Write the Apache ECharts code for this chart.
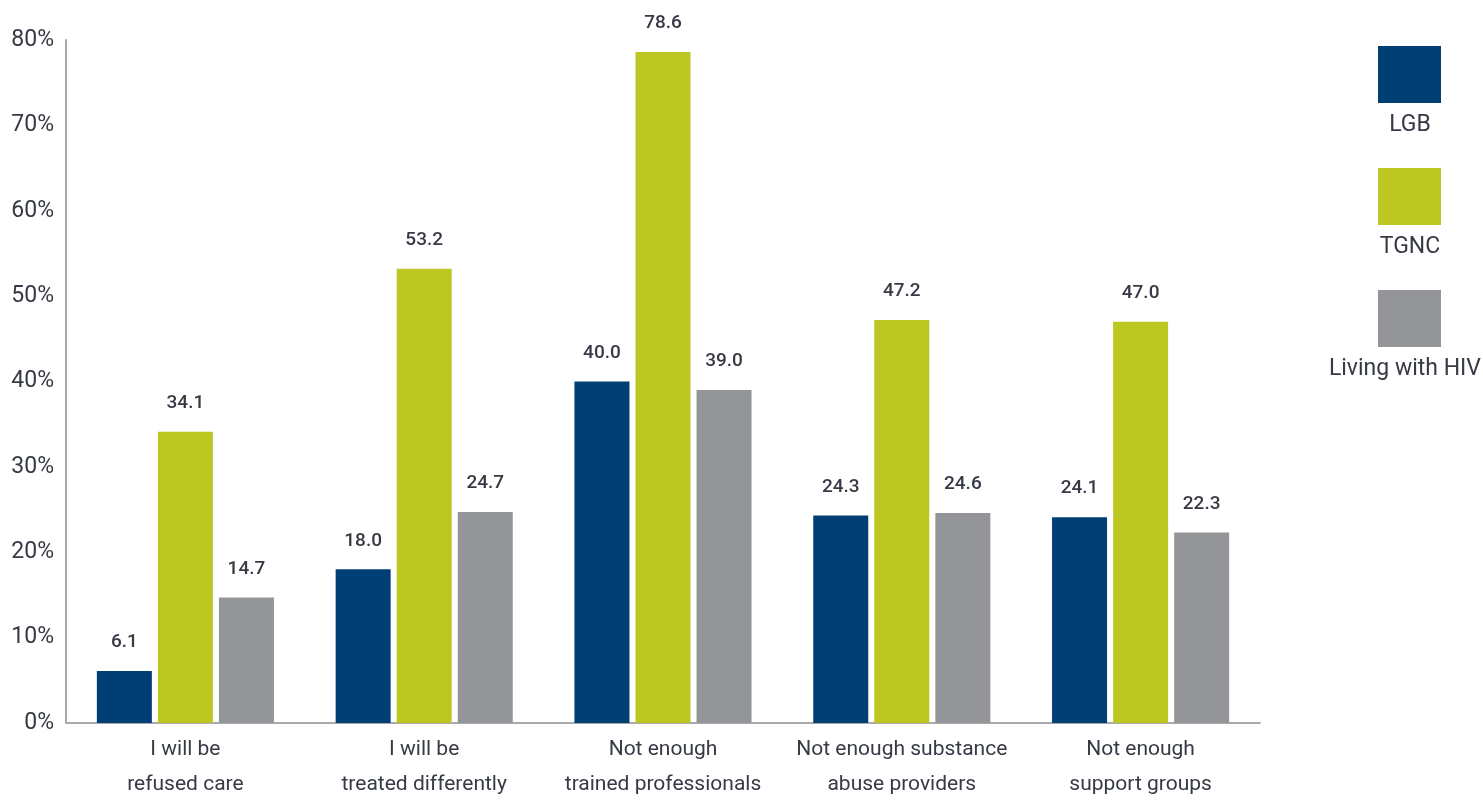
<!DOCTYPE html>
<html>
<head>
<meta charset="utf-8">
<script src="https://cdn.jsdelivr.net/npm/echarts@6/dist/echarts.min.js"></script>
<style>
  html, body { margin: 0; padding: 0; background: #ffffff; }
  #chart { width: 1483px; height: 802px; }
</style>
</head>
<body>
<div id="chart"></div>
<script>
// Barriers to care, share of respondents (%) by group
const categories = [
  'I will be\nrefused care',
  'I will be\ntreated differently',
  'Not enough\ntrained professionals',
  'Not enough substance\nabuse providers',
  'Not enough\nsupport groups'
];
const seriesNames = ['LGB', 'TGNC', 'Living with HIV'];
const lgb  = [6.1, 18.0, 40.0, 24.3, 24.1];
const tgnc = [34.1, 53.2, 78.6, 47.2, 47.0];
const hiv  = [14.7, 24.7, 39.0, 24.6, 22.3];
const colors = ['#003F74', '#BCC821', '#939598'];

const FONT = "Roboto, 'DejaVu Sans Condensed', sans-serif";
const TEXT = '#363a44';

const chart = echarts.init(document.getElementById('chart'), null, { renderer: 'canvas' });

function bar(name, data, color) {
  return {
    name: name,
    type: 'bar',
    data: data,
    barWidth: 55,
    barGap: '11%',
    itemStyle: { color: color },
    label: {
      show: true,
      position: 'top',
      distance: 19,
      formatter: p => p.value.toFixed(1),
      color: TEXT,
      fontFamily: FONT,
      fontWeight: 500,
      fontSize: 19
    }
  };
}

// Legend: swatch with its name centred underneath (kept inside the canvas)
const legendFont = '23px ' + FONT;
const measureCtx = document.createElement('canvas').getContext('2d');
measureCtx.font = legendFont;
const legendGraphics = [];
seriesNames.forEach((n, i) => {
  const top = 46 + i * 122;
  const w = measureCtx.measureText(n).width;
  const cx = Math.min(1410, 1481 - w / 2);
  legendGraphics.push({
    type: 'rect',
    left: 1378, top: top,
    shape: { width: 63, height: 57 },
    style: { fill: colors[i] }
  });
  legendGraphics.push({
    type: 'text',
    x: cx, y: top + 79,
    style: {
      text: n,
      fill: TEXT,
      font: legendFont,
      textAlign: 'center',
      textVerticalAlign: 'middle'
    }
  });
});

chart.setOption({
  animation: false,
  backgroundColor: '#ffffff',
  grid: { left: 66, top: 40, width: 1194, height: 693, containLabel: false },
  xAxis: {
    type: 'category',
    data: categories,
    axisLine: { show: true, lineStyle: { color: '#a9a9ae', width: 2 } },
    axisTick: { show: false },
    axisLabel: {
      color: TEXT,
      fontFamily: FONT,
      fontSize: 21,
      lineHeight: 35,
      margin: 9,
      interval: 0
    }
  },
  yAxis: {
    type: 'value',
    min: 0,
    max: 80,
    interval: 10,
    axisLine: { show: true, lineStyle: { color: '#a9a9ae', width: 2 } },
    axisTick: { show: false },
    splitLine: { show: false },
    axisLabel: {
      color: TEXT,
      fontFamily: FONT,
      fontSize: 23,
      margin: 12,
      formatter: v => v + '%'
    }
  },
  series: [
    bar(seriesNames[0], lgb, colors[0]),
    bar(seriesNames[1], tgnc, colors[1]),
    bar(seriesNames[2], hiv, colors[2])
  ],
  graphic: legendGraphics
});
</script>
</body>
</html>
